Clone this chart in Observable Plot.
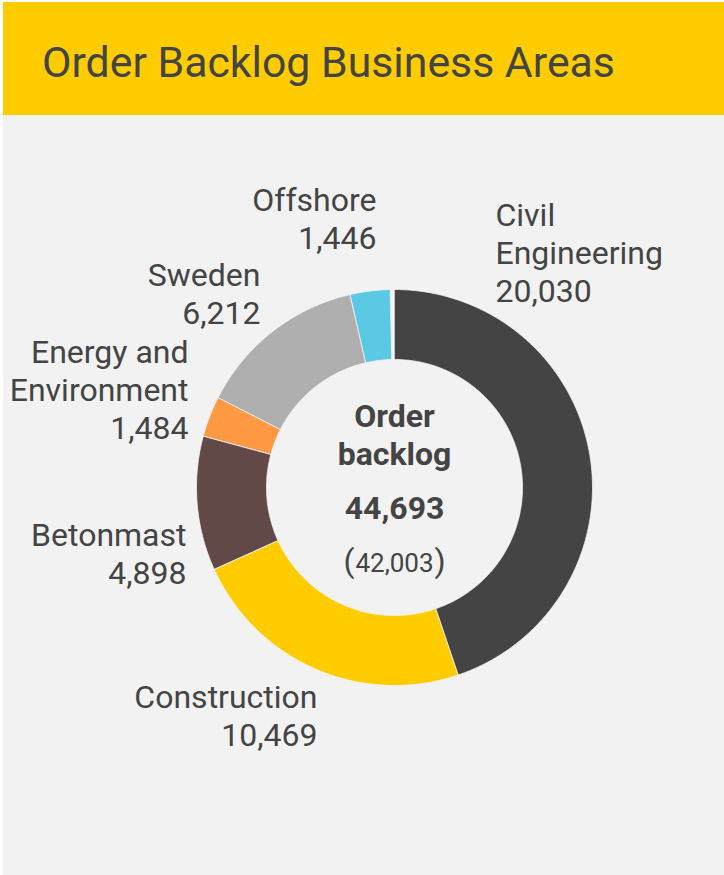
<!DOCTYPE html>
<html><head><meta charset="utf-8">
<script src="https://cdn.jsdelivr.net/npm/d3@7"></script>
<script src="https://cdn.jsdelivr.net/npm/@observablehq/plot@0.6"></script>
<style>
html,body{margin:0;padding:0;background:#fff;width:724px;height:875px;overflow:hidden;}
#card{position:absolute;left:3px;top:2px;width:721px;height:873px;background:#f2f2f2;font-family:Roboto,sans-serif;}
#header{height:113px;background:#FFCC00;position:relative;}
#header h1{margin:0;position:absolute;left:39px;top:39px;font-weight:400;font-size:42.8px;line-height:1;color:#444;white-space:nowrap;}
#chart{position:absolute;left:0;top:113px;}
</style></head>
<body>
<div id="card"><div id="header"><h1 id="title"></h1></div><div id="chart"></div></div>
<script>
// ---- data ----
const title = "Order Backlog Business Areas";
const categories = ["Civil Engineering", "Construction", "Betonmast", "Energy and Environment", "Sweden", "Offshore"];
const labelTexts = ["Civil\nEngineering", "Construction", "Betonmast", "Energy and\nEnvironment", "Sweden", "Offshore"];
const values = [20030, 10469, 4898, 1484, 6212, 1446];
const palette = ["#444444", "#FFCC00", "#634848", "#FF9944", "#AFAFAF", "#5BC8E4"];
const centerLabel = "Order\nbacklog";
const totalValue = 44693;
const previousTotal = 42003;

// ---- layout (not data) ----
const W = 721, H = 760;
const cx = 391, cy = 372;
const R = 198, r0 = 128;
const labelPlacement = {
  "Civil Engineering": {dx: 101, dy: -186, anchor: "start"},
  "Construction": {dx: -77, dy: 258, anchor: "end"},
  "Betonmast": {dx: -208, dy: 96, anchor: "end"},
  "Energy and Environment": {dx: -206, dy: -49, anchor: "end"},
  "Sweden": {dx: -134, dy: -164, anchor: "end"},
  "Offshore": {dx: -18, dy: -239, anchor: "end"}
};

document.getElementById("title").textContent = title;
const fmt = d3.format(",");

// slice polygons from cumulative values over the reported total
const rows = [];
let cum = 0;
categories.forEach((name, i) => {
  const a0 = cum / totalValue * 2 * Math.PI;
  cum += values[i];
  const a1 = cum / totalValue * 2 * Math.PI;
  const n = Math.max(4, Math.ceil((a1 - a0) / (Math.PI / 360)));
  for (let k = 0; k <= n; k++) {
    const a = a0 + (a1 - a0) * k / n;
    rows.push({name, x: R * Math.sin(a), y: -R * Math.cos(a)});
  }
  for (let k = n; k >= 0; k--) {
    const a = a0 + (a1 - a0) * k / n;
    rows.push({name, x: r0 * Math.sin(a), y: -r0 * Math.cos(a)});
  }
});

const labels = categories.map((name, i) => ({
  name,
  text: labelTexts[i] + "\n" + fmt(values[i]),
  x: labelPlacement[name].dx,
  y: labelPlacement[name].dy,
  anchor: labelPlacement[name].anchor
}));

const textColor = "#444444";
const LF = 32, LH = 38 / 32;
const chart = Plot.plot({
  width: W, height: H, margin: 0,
  style: {background: "transparent", fontFamily: "Roboto, sans-serif", overflow: "visible"},
  x: {domain: [-cx, W - cx], range: [0, W], axis: null},
  y: {domain: [-cy, H - cy], range: [0, H], axis: null},
  color: {domain: categories, range: palette},
  marks: [
    Plot.line(rows, {x: "x", y: "y", z: "name", fill: "name", stroke: "#f6f6f6", strokeWidth: 0.8, curve: "linear-closed"}),
    Plot.text(labels.filter(d => d.anchor === "end"), {x: "x", y: "y", text: "text", textAnchor: "end", lineAnchor: "bottom", lineHeight: LH, fontSize: LF, fill: textColor}),
    Plot.text(labels.filter(d => d.anchor === "start"), {x: "x", y: "y", text: "text", textAnchor: "start", lineAnchor: "bottom", lineHeight: LH, fontSize: LF, fill: textColor}),
    Plot.text([centerLabel], {x: 0, y: -23, text: d => d, lineAnchor: "bottom", lineHeight: 38 / 32, fontSize: 32, fontWeight: 700, fill: textColor}),
    Plot.text([fmt(totalValue)], {x: 0, y: 31, text: d => d, lineAnchor: "bottom", fontSize: 32, fontWeight: 700, fill: textColor}),
    Plot.text([fmt(previousTotal)], {x: 0, y: 84, text: d => d, lineAnchor: "bottom", fontSize: 26, fill: textColor}),
    Plot.text(["("], {x: -40, y: 84, text: d => d, textAnchor: "end", lineAnchor: "bottom", fontSize: 32, fill: textColor}),
    Plot.text([")"], {x: 40, y: 84, text: d => d, textAnchor: "start", lineAnchor: "bottom", fontSize: 32, fill: textColor})
  ]
});
document.getElementById("chart").appendChild(chart);
</script>
</body></html>
